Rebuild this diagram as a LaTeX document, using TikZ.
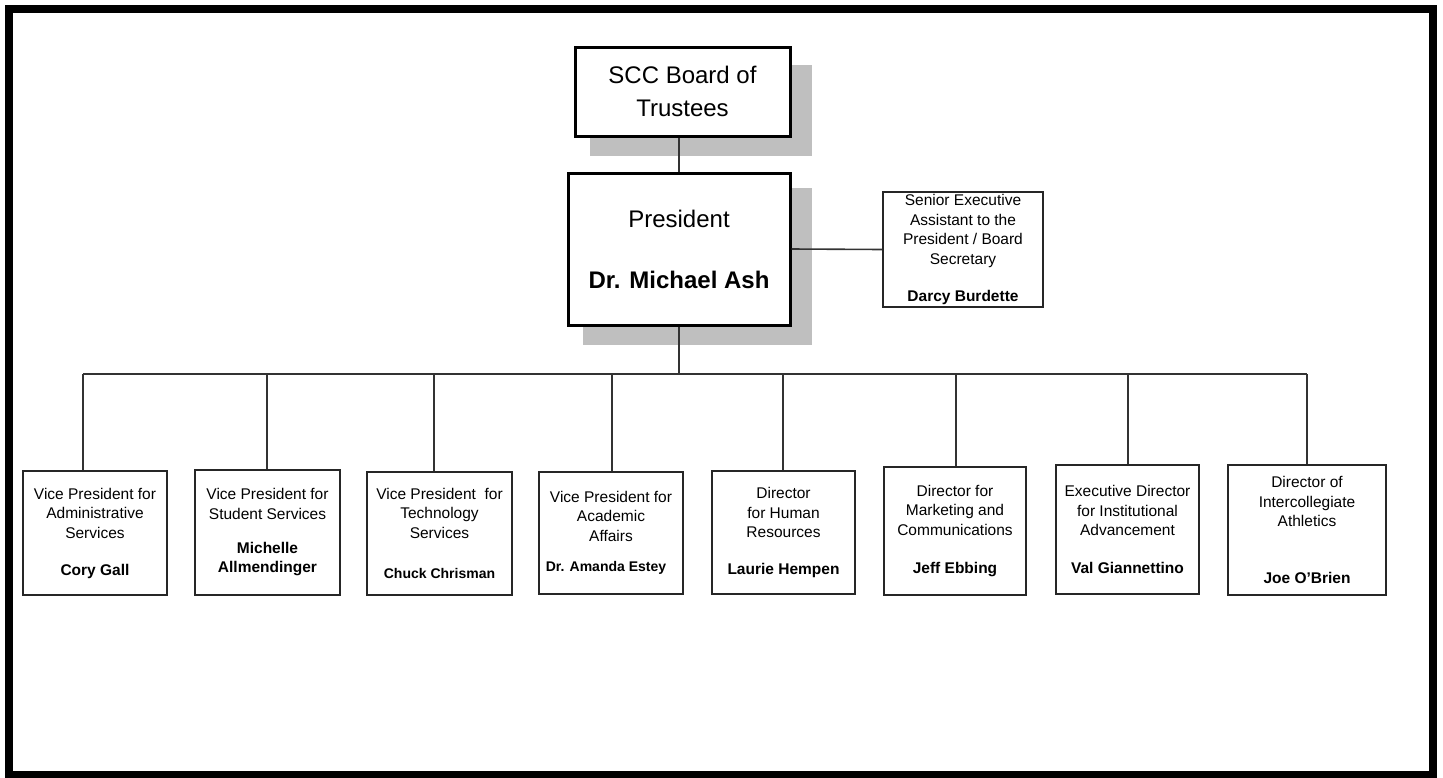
\documentclass[tikz,border=0pt]{standalone}
\usepackage{fontspec}
\setmainfont{Liberation Sans}
\begin{document}
\begin{tikzpicture}[x=1pt,y=-1pt,
  shadowbox/.style={fill=black!25,draw=none},
  topbox/.style={draw=black,line width=3pt,fill=white,inner sep=0pt,align=center,
    font=\fontsize{24}{33}\selectfont},
  smallbox/.style={draw=black!85,line width=1.6pt,fill=white,inner sep=0pt,align=center,
    font=\fontsize{15.5}{19.5}\selectfont},
  link/.style={draw=black!80,line width=1.6pt}
]
\useasboundingbox (0,0) rectangle (1443,777);
\fill[white] (0,0) rectangle (1443,777);
% outer frame
\draw[line width=8pt] (9,8.5) rectangle (1433,775);

% shadows
\fill[shadowbox] (590,65) rectangle (812,156);
\fill[shadowbox] (583,188) rectangle (812,345);

% top boxes
\node[topbox,minimum width=215pt,minimum height=89pt] (board) at (682.5,91.5)
  {SCC Board of\\Trustees};
\node[topbox,minimum width=222pt,minimum height=152pt] (pres) at (679,249)
  {President\\[28pt]\textbf{Dr. Michael Ash}};

\node[smallbox,minimum width=160pt,minimum height=115pt] (sec) at (963,249.5)
  {Senior Executive\\Assistant to the\\President / Board\\Secretary\\[17.5pt]\textbf{Darcy Burdette}};

% bottom boxes
\node[smallbox,minimum width=144pt,minimum height=124pt] (b1) at (95,533)
  {Vice President for\\Administrative\\Services\\[17.5pt]\textbf{Cory Gall}};
\node[smallbox,minimum width=145pt,minimum height=125pt] (b2) at (267.5,532.5)
  {Vice President for\\Student Services\\[14.5pt]\textbf{Michelle}\\\textbf{Allmendinger}};
\node[smallbox,minimum width=145pt,minimum height=123pt] (b3) at (439.5,533.5)
  {Vice President\ \ for\\Technology\\Services\\[21pt]\textbf{\fontsize{14}{19.5}\selectfont Chuck Chrisman}};
\node[smallbox,minimum width=144pt,minimum height=122pt] (b4) at (611,533)
  {Vice President for\\Academic\\Affairs\\[11pt]\hspace*{-10pt}\textbf{\fontsize{14}{19.5}\selectfont Dr. Amanda Estey}};
\node[smallbox,minimum width=143pt,minimum height=123pt] (b5) at (783.5,532.5)
  {Director\\for Human\\Resources\\[17.5pt]\textbf{Laurie Hempen}};
\node[smallbox,minimum width=142pt,minimum height=128pt] (b6) at (955,531)
  {Director for\\Marketing and\\Communications\\[18.5pt]\textbf{Jeff Ebbing}};
\node[smallbox,minimum width=143pt,minimum height=129pt] (b7) at (1127.5,529.5)
  {Executive Director\\for Institutional\\Advancement\\[18pt]\textbf{Val Giannettino}};
\node[smallbox,minimum width=158pt,minimum height=130pt] (b8) at (1307,530)
  {Director of\\Intercollegiate\\Athletics\\[37.5pt]\textbf{Joe O'Brien}};

% connectors
\draw[link] (board.south -| 679,0) -- (pres.north -| 679,0);
\draw[link] (pres.east) -- (sec.west);
\coordinate (bar) at (679,374);
\draw[link] (pres.south -| bar) -- (bar);
\draw[link] (83,374) -- (1307,374);
\foreach \n/\x in {b1/83,b2/267,b3/434,b4/612,b5/783,b6/956,b7/1128,b8/1307}{
  \draw[link] (\x,374) -- (\n.north -| \x,0);
}
\end{tikzpicture}
\end{document}
